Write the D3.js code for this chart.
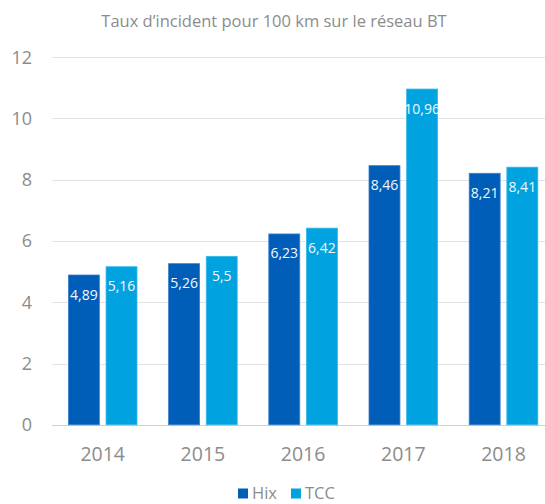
<!DOCTYPE html>
<html>
<head>
<meta charset="utf-8">
<script src="https://cdn.jsdelivr.net/npm/d3@7"></script>
<style>
  body { margin: 0; background: #fff; }
  text { font-family: "Open Sans", sans-serif; }
</style>
</head>
<body>
<svg id="main" width="545" height="504"></svg>
<script>
// data
var years = ["2014", "2015", "2016", "2017", "2018"];
var series = ["Hix", "TCC"];
var hix = [4.89, 5.26, 6.23, 8.46, 8.21];
var tcc = [5.16, 5.5, 6.42, 10.96, 8.41];
var yTicks = [0, 2, 4, 6, 8, 10, 12];
var colors = ["#005eb8", "#00a3e0"];
var title = "Taux d\u2019incident pour 100 km sur le réseau BT";

var svg = d3.select("#main");

var x = d3.scaleBand().domain(years).range([52.6, 553.6]).padding(0);
var xInner = d3.scaleBand().domain(series).range([15.8, 84.4]).paddingInner(0.178);
var y = d3.scaleLinear().domain([0, 12]).range([424.8, 57.2]);

var rows = years.map(function(yr, i) {
  return {year: yr, values: [hix[i], tcc[i]]};
});

// gridlines
svg.append("g").selectAll("line")
  .data(yTicks)
  .join("line")
  .attr("x1", 52).attr("x2", 545)
  .attr("y1", function(d) { return Math.round(y(d)) + 0.5; })
  .attr("y2", function(d) { return Math.round(y(d)) + 0.5; })
  .attr("stroke", d => d === 0 ? "#d0d0d0" : "#e3e3e3")
  .attr("stroke-width", 1);

// y labels
svg.append("g").selectAll("text")
  .data(yTicks)
  .join("text")
  .attr("x", 32)
  .attr("y", d => y(d))
  .attr("dy", "0.36em")
  .attr("text-anchor", "end")
  .attr("font-size", "18px")
  .attr("fill", "#8c8c8c")
  .text(d => d);

// bars
var groups = svg.append("g").selectAll("g")
  .data(rows)
  .join("g")
  .attr("transform", d => "translate(" + x(d.year) + ",0)");

var cells = groups.selectAll("g")
  .data(d => d.values.map((v, k) => ({key: series[k], k: k, value: v})))
  .join("g");

cells.append("rect")
  .attr("x", d => xInner(d.key))
  .attr("width", xInner.bandwidth())
  .attr("y", d => y(d.value))
  .attr("height", d => y(0) - y(d.value))
  .attr("fill", d => colors[d.k])
  .attr("stroke", d => d.k === 0 ? "#3a7fc9" : "#35b8e8")
  .attr("stroke-width", 0.8);

cells.append("text")
  .attr("x", d => xInner(d.key) + xInner.bandwidth() / 2)
  .attr("y", d => y(d.value) + 24.5)
  .attr("text-anchor", "middle")
  .attr("font-size", "14px")
  .attr("fill", "#f4f8fc")
  .text(d => String(d.value).replace(".", ","));

// x labels
svg.append("g").selectAll("text")
  .data(years)
  .join("text")
  .attr("x", d => x(d) + x.bandwidth() / 2)
  .attr("y", 461)
  .attr("text-anchor", "middle")
  .attr("font-size", "19.5px")
  .attr("fill", "#8c8c8c")
  .text(d => d);

// title
svg.append("text")
  .attr("x", 274)
  .attr("y", 27)
  .attr("text-anchor", "middle")
  .attr("font-size", "16.5px")
  .attr("fill", "#8c8c8c")
  .text(title);

// legend
var legend = svg.append("g");
var lx = 238;
series.forEach(function(s, k) {
  legend.append("rect")
    .attr("x", lx).attr("y", 488.5)
    .attr("width", 10).attr("height", 10)
    .attr("fill", colors[k]);
  var t = legend.append("text")
    .attr("x", lx + 14)
    .attr("y", 499)
    .attr("font-size", "16.5px")
    .attr("fill", "#8c8c8c")
    .text(s);
  lx += 14 + t.node().getComputedTextLength() + 14;
});
</script>
</body>
</html>
